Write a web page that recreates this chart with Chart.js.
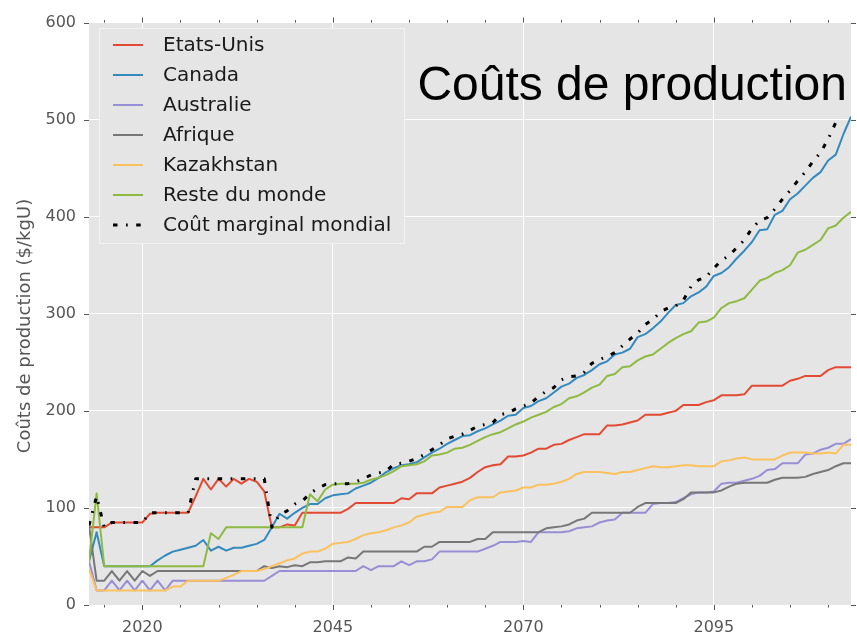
<!DOCTYPE html>
<html><head><meta charset="utf-8">
<script src="https://cdn.jsdelivr.net/npm/chart.js@4.4.1/dist/chart.umd.min.js"></script>
<style>html,body{margin:0;padding:0;background:#fff;}canvas{display:block;}</style>
</head><body>
<canvas id="c" width="857" height="638"></canvas>
<script>
const years = [
2013,2014,2015,2016,2017,2018,2019,2020,2021,2022,
2023,2024,2025,2026,2027,2028,2029,2030,2031,2032,
2033,2034,2035,2036,2037,2038,2039,2040,2041,2042,
2043,2044,2045,2046,2047,2048,2049,2050,2051,2052,
2053,2054,2055,2056,2057,2058,2059,2060,2061,2062,
2063,2064,2065,2066,2067,2068,2069,2070,2071,2072,
2073,2074,2075,2076,2077,2078,2079,2080,2081,2082,
2083,2084,2085,2086,2087,2088,2089,2090,2091,2092,
2093,2094,2095,2096,2097,2098,2099,2100,2101,2102,
2103,2104,2105,2106,2107,2108,2109,2110,2111,2112,
2113];
const etatsUnis = [
80,80,80,85,85,85,85,85,94,95,
95,95,95,95,112,130,119,130,122,130,
125,130,127,117,80,80,83,82,95,95,
95,95,95,95,99,105,105,105,105,105,
105,110,109,115,115,115,121,123,125,127,
131,137,142,144,145,153,153,154,157,161,
161,165,166,170,173,176,176,176,185,185,
186,188,190,196,196,196,198,200,206,206,
206,209,211,216,216,216,217,226,226,226,
226,226,231,233,236,236,236,242,245,245,
245];
const canada = [
45,75,40,40,40,40,40,40,40,46,
51,55,57,59,61,67,56,60,56,59,
59,61,63,67,80,94,89,95,100,104,
104,110,113,114,115,120,123,126,131,137,
141,144,145,147,152,157,161,166,170,174,
175,179,182,186,190,195,196,203,205,210,
213,219,225,228,234,237,242,248,251,258,
260,264,276,279,285,292,301,309,311,318,
322,328,339,342,348,357,365,374,386,387,
402,406,418,424,432,440,446,458,464,485,
503];
const australie = [
45,15,15,25,15,25,15,25,15,25,
15,25,25,25,25,25,25,25,25,25,
25,25,25,25,30,35,35,35,35,35,
35,35,35,35,35,35,40,36,40,40,
40,45,41,45,45,47,55,55,55,55,
55,55,58,61,65,65,65,66,65,75,
75,75,75,76,79,80,81,85,87,88,
95,95,95,95,104,105,105,106,110,114,
116,116,117,125,126,126,128,130,133,139,
140,146,146,146,155,156,160,162,166,166,
171];
const afrique = [
82,25,25,35,25,35,25,35,30,35,
35,35,35,35,35,35,35,35,35,35,
35,35,35,40,38,40,39,41,40,44,
44,45,45,45,49,48,55,55,55,55,
55,55,55,55,60,60,65,65,65,65,
65,68,68,75,75,75,75,75,75,75,
79,80,81,83,87,89,95,95,95,95,
95,95,101,105,105,105,105,105,109,116,
116,116,116,118,122,125,126,126,126,126,
129,131,131,131,132,135,137,139,143,146,
146];
const kazakhstan = [
37,15,15,15,15,15,15,15,15,15,
15,19,19,25,25,25,25,25,28,31,
35,35,35,37,40,43,46,48,53,55,
55,58,63,64,65,68,72,74,75,77,
80,82,85,91,93,95,96,101,101,101,
108,111,111,111,116,117,118,121,121,124,
124,125,127,130,135,137,137,137,136,135,
137,137,139,141,143,142,142,143,144,144,
143,143,143,148,149,151,152,150,150,150,
150,154,157,157,157,156,156,157,156,165,
165];
const resteDuMonde = [
45,115,40,40,40,40,40,40,40,40,
40,40,40,40,40,40,74,68,80,80,
80,80,80,80,80,80,80,80,80,114,
107,119,124,125,125,125,126,129,131,134,
138,143,144,145,148,154,155,157,161,162,
165,169,173,176,178,182,186,189,193,196,
199,204,207,213,215,219,224,227,236,238,
245,246,252,256,258,264,270,275,279,282,
291,292,296,306,311,313,316,325,334,337,
342,345,350,363,366,371,376,388,391,399,
405];
const coutMarginal = [
82,112,80,85,85,85,85,85,95,95,
95,95,95,95,130,130,130,130,130,130,
130,130,130,130,80,93,97,104,107,115,
120,124,125,125,125,127,130,134,136,138,
145,146,148,151,155,160,165,171,174,176,
180,184,186,188,196,198,202,205,208,215,
220,224,232,235,236,240,249,253,256,260,
267,274,280,289,294,302,306,308,314,328,
335,338,347,355,360,368,376,388,396,399,
408,418,427,437,446,457,466,480,497,null,
null];

const seriesNames = ["Etats-Unis","Canada","Australie","Afrique","Kazakhstan","Reste du monde","Coût marginal mondial"];
const seriesValues = [etatsUnis, canada, australie, afrique, kazakhstan, resteDuMonde, coutMarginal];
const seriesColors = ["#E24A33","#348ABD","#988ED5","#777777","#FBC15E","#8EBA42","#000000"];
const xTickLabels = [2020, 2045, 2070, 2095];
const yTickValues = [0, 100, 200, 300, 400, 500, 600];
const titleText = "Coûts de production";
const yAxisTitle = "Coûts de production ($/kgU)";

const DASH = [4.5, 8.5, 1.7, 8.5];
const FONT = "'DejaVu Sans', sans-serif";

const datasets = seriesNames.map((name, i) => {
  const isMarg = i === seriesNames.length - 1;
  return {
    label: name,
    data: years.map((yr, k) => ({x: yr, y: seriesValues[i][k]})),
    borderColor: seriesColors[i],
    backgroundColor: seriesColors[i],
    borderWidth: isMarg ? 3 : 2,
    borderDash: isMarg ? DASH : [],
    borderJoinStyle: 'round',
    pointRadius: 0,
    tension: 0,
    fill: false,
    spanGaps: false,
    order: seriesNames.length - i
  };
});

const bgPlugin = {
  id: 'bg',
  beforeDraw(chart) {
    const {ctx, chartArea: a} = chart;
    ctx.save();
    ctx.fillStyle = '#FFFFFF';
    ctx.fillRect(0, 0, chart.width, chart.height);
    ctx.fillStyle = '#E5E5E5';
    ctx.fillRect(a.left, a.top, a.right - a.left, a.bottom - a.top);
    ctx.restore();
  }
};

const overlayPlugin = {
  id: 'overlay',
  afterDraw(chart) {
    const {ctx, chartArea: a} = chart;
    const xs = chart.scales.x, ys = chart.scales.y;
    ctx.save();
    ctx.strokeStyle = '#555555';
    ctx.lineWidth = 1;
    ctx.beginPath();
    for (let v = 2015; v <= 2110; v += 5) {
      const px = Math.round(xs.getPixelForValue(v)) + 0.5;
      const major = xTickLabels.includes(v);
      const L = major ? 5 : 2.5;
      ctx.moveTo(px, a.bottom); ctx.lineTo(px, a.bottom + L);
      ctx.moveTo(px, a.top); ctx.lineTo(px, a.top - L);
    }
    yTickValues.forEach(v => {
      const py = Math.round(ys.getPixelForValue(v)) + 0.5;
      ctx.moveTo(a.left - 5, py); ctx.lineTo(a.left, py);
      ctx.moveTo(a.right, py); ctx.lineTo(a.right + 5, py);
    });
    ctx.stroke();

    ctx.save();
    ctx.translate(30, 326);
    ctx.rotate(-Math.PI / 2);
    ctx.fillStyle = '#555555';
    ctx.font = "18px " + FONT;
    ctx.textAlign = 'center';
    ctx.textBaseline = 'alphabetic';
    ctx.fillText(yAxisTitle, 0, 0);
    ctx.restore();

    ctx.fillStyle = '#000000';
    ctx.font = "48px 'Liberation Sans', Arial, sans-serif";
    ctx.textAlign = 'right';
    ctx.textBaseline = 'alphabetic';
    ctx.fillText(titleText, 847, 100);

    const lx = 99.5, ly = 28.5, lw = 305, lh = 215;
    ctx.fillStyle = '#E5E5E5';
    ctx.fillRect(lx, ly, lw, lh);
    ctx.strokeStyle = '#F2F2F2';
    ctx.lineWidth = 1;
    ctx.strokeRect(lx, ly, lw, lh);
    ctx.font = "20px " + FONT;
    ctx.textAlign = 'left';
    ctx.textBaseline = 'middle';
    seriesNames.forEach((name, i) => {
      const yy = 45 + i * 30;
      const isMarg = i === seriesNames.length - 1;
      ctx.save();
      ctx.strokeStyle = seriesColors[i];
      ctx.lineWidth = isMarg ? 3 : 2;
      ctx.setLineDash(isMarg ? DASH : []);
      ctx.beginPath();
      ctx.moveTo(113, yy); ctx.lineTo(143, yy);
      ctx.stroke();
      ctx.restore();
      ctx.fillStyle = '#1a1a1a';
      ctx.fillText(name, 163, yy + 1);
    });
    ctx.restore();
  }
};

new Chart(document.getElementById('c'), {
  type: 'line',
  data: { datasets },
  options: {
    responsive: false,
    animation: false,
    devicePixelRatio: 1,
    layout: { padding: { top: 17.6, right: 6, left: 0, bottom: 0 } },
    plugins: { legend: { display: false }, tooltip: { enabled: false }, title: { display: false } },
    scales: {
      x: {
        type: 'linear',
        min: 2013, max: 2113,
        afterBuildTicks: (scale) => { scale.ticks = xTickLabels.map(v => ({ value: v })); },
        afterFit: (scale) => { scale.height = 33; },
        grid: { color: '#FFFFFF', lineWidth: 1, drawTicks: false },
        border: { display: false },
        ticks: { color: '#555555', font: { family: FONT, size: 16 }, padding: 13, maxRotation: 0, autoSkip: false,
                 callback: (v) => String(v) }
      },
      y: {
        min: 0, max: 600,
        afterBuildTicks: (scale) => { scale.ticks = yTickValues.map(v => ({ value: v })); },
        afterFit: (scale) => { scale.width = 89; },
        grid: { color: '#FFFFFF', lineWidth: 1, drawTicks: false },
        border: { display: false },
        ticks: { color: '#555555', font: { family: FONT, size: 16 }, padding: 13, callback: (v) => String(v) }
      }
    }
  },
  plugins: [bgPlugin, overlayPlugin]
});
</script>
</body></html>
